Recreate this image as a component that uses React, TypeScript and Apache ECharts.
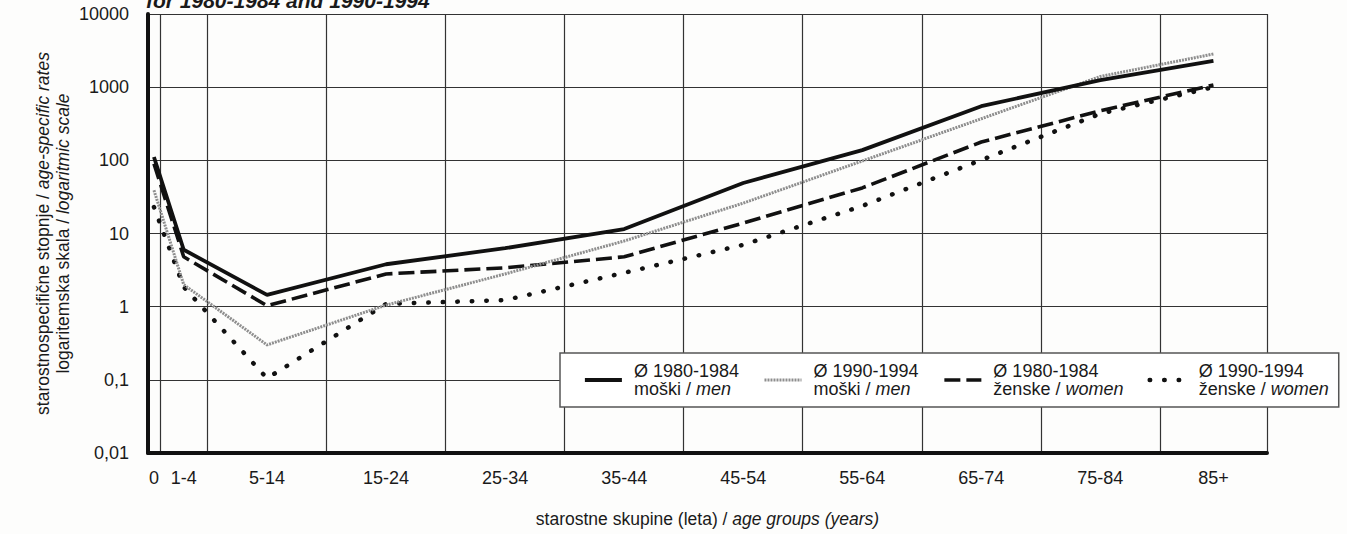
import React, { useEffect, useRef } from 'react';
import * as echarts from 'echarts';

// ---- data ----
const ageGroups = ['0', '1-4', '5-14', '15-24', '25-34', '35-44', '45-54', '55-64', '65-74', '75-84', '85+'];
const ageMidpoints = [0.5, 3, 10, 20, 30, 40, 50, 60, 70, 80, 89.5];
const groupBoundaries = [1, 5, 15, 25, 35, 45, 55, 65, 75, 85, 94];
const yTickLabels = ['0,01', '0,1', '1', '10', '100', '1000', '10000'];

const men1980_84 = [111, 6.0, 1.45, 3.8, 6.3, 11.5, 49, 138, 550, 1250, 2280];
const men1990_94 = [39, 2.0, 0.30, 1.05, 2.8, 7.9, 26, 98, 370, 1400, 2840];
const women1980_84 = [90, 4.8, 1.03, 2.8, 3.4, 4.8, 13.9, 42, 178, 476, 1070];
const women1990_94 = [23, 1.86, 0.105, 1.09, 1.23, 2.9, 7.0, 23.8, 101, 434, 1000];

const periods = ['Ø 1980-1984', 'Ø 1990-1994', 'Ø 1980-1984', 'Ø 1990-1994'];
const sexSl = ['moški', 'moški', 'ženske', 'ženske'];
const sexEn = ['men', 'men', 'women', 'women'];
const seriesNames = periods.map((p, i) => `${p} ${sexSl[i]} / ${sexEn[i]}`);

const FONT = "'Liberation Sans', Arial, Helvetica, sans-serif";
const TXT = '#1a1a1a';

function pts(vals: number[]) {
  return vals.map((v, i) => [ageMidpoints[i], v]);
}

export default function App() {
  const ref = useRef<HTMLDivElement>(null);
  useEffect(() => {
    if (!ref.current) return;
    const chart = echarts.init(ref.current, null, { renderer: 'svg' });
    const lineStyles: any[] = [
      { color: '#111', width: 3.8, type: 'solid' },
      { color: '#8e8e8e', width: 3, type: [2, 1] },
      { color: '#111', width: 3.6, type: [16, 6] },
      { color: '#111', width: 4.5, type: [0.5, 14], cap: 'round' },
    ];
    const datasets = [men1980_84, men1990_94, women1980_84, women1990_94];
    chart.setOption({
      animation: false,
      backgroundColor: '#fdfdfc',
      title: {
        text: 'for 1980-1984 and 1990-1994',
        left: 146,
        top: -10,
        padding: 0,
        textStyle: { fontFamily: FONT, fontSize: 21, fontWeight: 'bold', fontStyle: 'italic', color: TXT },
      },
      grid: { left: 148, right: 80, top: 14, bottom: 81, containLabel: false, outerBoundsMode: 'none' },
      legend: {
        left: 560,
        top: 353,
        padding: [9, 10, 9, 23],
        itemWidth: 37,
        itemHeight: 14,
        itemGap: 24,
        borderColor: '#555',
        borderWidth: 1.5,
        backgroundColor: '#ffffff',
        data: seriesNames,
        itemStyle: { opacity: 0 },
        lineStyle: { width: 'inherit' },
        formatter: (name: string) => {
          const i = seriesNames.indexOf(name);
          return `{p|${periods[i]}}\n{s|${sexSl[i]} / }{e|${sexEn[i]}}`;
        },
        textStyle: {
          padding: [0, 0, 0, 7],
          fontFamily: FONT,
          fontSize: 18,
          color: TXT,
          rich: {
            p: { fontFamily: FONT, fontSize: 18, lineHeight: 18, color: TXT },
            s: { fontFamily: FONT, fontSize: 18, lineHeight: 18, color: TXT },
            e: { fontFamily: FONT, fontSize: 18, lineHeight: 18, color: TXT, fontStyle: 'italic' },
          },
        },
      },
      xAxis: {
        type: 'value',
        min: 0,
        max: 94,
        name: '{a|starostne skupine (leta) / }{i|age groups (years)}',
        nameLocation: 'middle',
        nameGap: 57,
        nameTextStyle: {
          rich: {
            a: { fontFamily: FONT, fontSize: 17.5, color: TXT },
            i: { fontFamily: FONT, fontSize: 17.5, color: TXT, fontStyle: 'italic' },
          },
        },
        axisLine: { show: true, lineStyle: { color: '#111', width: 4 } },
        axisTick: { show: false, customValues: groupBoundaries },
        splitLine: { show: true, lineStyle: { color: '#333', width: 1.2 } },
        axisLabel: {
          customValues: ageMidpoints,
          margin: 16,
          fontFamily: FONT,
          fontSize: 18,
          color: TXT,
          formatter: (v: number) => {
            const i = ageMidpoints.findIndex((m) => Math.abs(m - v) < 1e-6);
            return i >= 0 ? ageGroups[i] : '';
          },
        },
      },
      yAxis: {
        type: 'log',
        logBase: 10,
        min: 0.01,
        max: 10000,
        name: '{a|starostnospecifične stopnje / }{i|age-specific rates}\n{a|logaritemska skala / }{i|logaritmic scale}',
        nameLocation: 'middle',
        nameRotate: 90,
        nameGap: 75,
        nameMoveOverlap: false,
        nameTextStyle: {
          align: 'center',
          rich: {
            a: { fontFamily: FONT, fontSize: 17.5, lineHeight: 20, color: TXT },
            i: { fontFamily: FONT, fontSize: 17.5, lineHeight: 20, color: TXT, fontStyle: 'italic' },
          },
        },
        axisLine: { show: true, lineStyle: { color: '#111', width: 4 } },
        axisTick: { show: false },
        splitLine: { show: true, lineStyle: { color: '#333', width: 1.2 } },
        axisLabel: {
          margin: 19,
          fontFamily: FONT,
          fontSize: 18,
          color: TXT,
          formatter: (v: number) => {
            const idx = Math.round(Math.log10(v)) + 2;
            return yTickLabels[idx] ?? '';
          },
        },
      },
      series: datasets.map((d, i) => ({
        name: seriesNames[i],
        type: 'line',
        data: pts(d),
        symbol: 'none',
        color: lineStyles[i].color,
        lineStyle: lineStyles[i],
        z: 4 - i,
      })),
    });
    return () => chart.dispose();
  }, []);
  return (
    <div
      ref={ref}
      style={{ position: 'absolute', left: 0, top: 0, width: 1347, height: 534 }}
    />
  );
}
